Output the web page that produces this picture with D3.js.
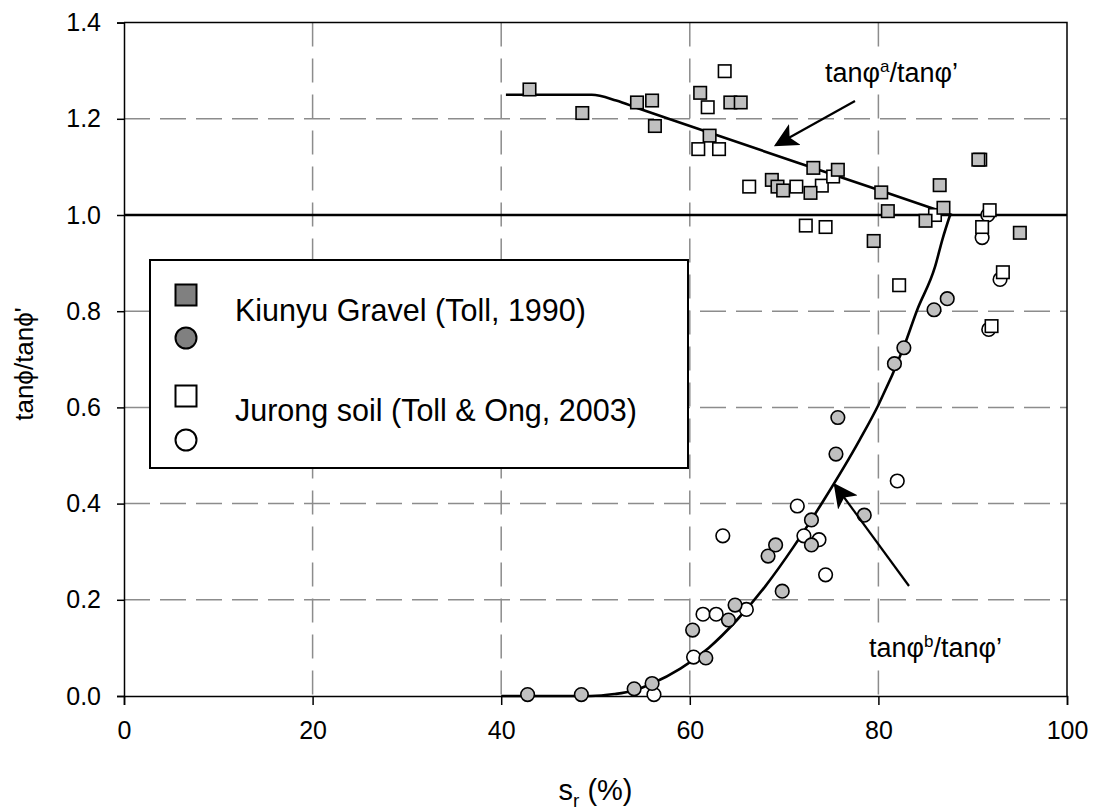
<!DOCTYPE html>
<html lang="en">
<head>
<meta charset="UTF-8">
<title>tanphi ratio</title>
<script src="https://cdn.jsdelivr.net/npm/d3@7"></script>
<style>
  * { padding: 0; margin: 0; }
  html, body { background: #fff; overflow: hidden; }
  text { font-family: "Liberation Sans", Arial, sans-serif; fill: #000; }
</style>
</head>
<body>
<svg id="chart" width="1097" height="811"></svg>
<script>
// Kiunyu Gravel (Toll, 1990): tanphi^a (squares) and tanphi^b (circles)
const kiunyuSquares = [
  [43.0, 1.261], [48.6, 1.212], [54.4, 1.234], [56.0, 1.238], [56.3, 1.185],
  [61.1, 1.254], [64.3, 1.234], [65.4, 1.234], [62.1, 1.165],
  [68.7, 1.073], [69.3, 1.059], [69.9, 1.051], [72.8, 1.046], [73.1, 1.098], [75.7, 1.094],
  [79.5, 0.946], [80.3, 1.047], [81.0, 1.008], [85.0, 0.988], [86.5, 1.062], [86.9, 1.015],
  [90.6, 1.115], [95.0, 0.963]
]
const kiunyuCircles = [
  [42.8, 0.003], [48.5, 0.003], [54.1, 0.015], [56.0, 0.026],
  [61.7, 0.079], [60.3, 0.137], [64.1, 0.158], [64.8, 0.189],
  [69.8, 0.218], [68.3, 0.291], [69.1, 0.314], [72.9, 0.366], [72.9, 0.314],
  [75.5, 0.503], [75.7, 0.579], [78.5, 0.376],
  [81.7, 0.691], [82.7, 0.724], [85.9, 0.803], [87.3, 0.826]
]
// Jurong soil (Toll & Ong, 2003)
const jurongSquares = [
  [63.7, 1.299], [61.9, 1.224], [60.9, 1.137], [63.1, 1.137], [66.3, 1.059],
  [71.3, 1.059], [74.0, 1.061], [75.2, 1.080], [72.3, 0.978], [74.4, 0.975],
  [82.2, 0.854], [86.0, 1.000], [90.8, 1.115], [91.0, 0.975], [91.8, 1.010],
  [93.2, 0.881], [92.0, 0.769]
]
const jurongCircles = [
  [56.2, 0.003], [60.4, 0.081], [61.4, 0.170], [62.8, 0.170], [66.0, 0.180],
  [63.5, 0.333], [71.4, 0.395], [72.1, 0.333], [73.7, 0.325], [74.4, 0.252],
  [82.0, 0.447], [91.0, 0.953], [91.6, 1.000], [92.9, 0.866], [91.7, 0.762]
]
// fitted curves
const curveA = [[40.5, 1.25], [49.6, 1.25], [52.2, 1.238], [54.5, 1.222], [57.9, 1.199], [79.1, 1.058], [87.8, 1.0]]
const curveB = [[40, 0], [49.5, 0], [52, 0.004], [54, 0.011], [56, 0.026], [59, 0.057], [62, 0.1],
  [65, 0.158], [68, 0.228], [71, 0.31], [74.2, 0.407], [78, 0.532], [80, 0.605], [82.7, 0.726],
  [84.1, 0.802], [86, 0.892], [86.8, 0.95], [87.6, 1.0]]
const xTicks = [0, 20, 40, 60, 80, 100]
const yTicks = [0, 0.2, 0.4, 0.6, 0.8, 1.0, 1.2, 1.4]

const svg = d3.select('#chart')
const margin = {left: 124, right: 30, top: 22.6, bottom: 115}
const W = 1097, H = 811
const x = d3.scaleLinear().domain([0, 100]).range([margin.left, W - margin.right])
const y = d3.scaleLinear().domain([0, 1.4]).range([H - margin.bottom, margin.top])

svg.append('rect').attr('width', W).attr('height', H).attr('fill', '#fff')

// grid
const grid = svg.append('g').attr('stroke', '#8c8c8c').attr('stroke-width', 1.5)
grid.selectAll('.gx').data(xTicks.slice(1, -1)).join('line')
  .attr('x1', d => x(d)).attr('x2', d => x(d)).attr('y1', y(1.4)).attr('y2', y(0))
  .attr('stroke-dasharray', '24,12')
grid.selectAll('.gy').data(yTicks.slice(1, -1)).join('line')
  .attr('x1', x(0)).attr('x2', x(100)).attr('y1', d => y(d)).attr('y2', d => y(d))
  .attr('stroke-dasharray', '26,10')

// axes
const xAxis = svg.append('g').attr('transform', `translate(0,${y(0)})`)
  .call(d3.axisBottom(x).tickValues(xTicks).tickSize(9).tickPadding(16).tickFormat(d3.format('d')))
const yAxis = svg.append('g').attr('transform', `translate(${x(0)},0)`)
  .call(d3.axisLeft(y).tickValues(yTicks).tickSize(7).tickPadding(16).tickFormat(d3.format('.1f')))
;[xAxis, yAxis].forEach(a => {
  a.select('.domain').attr('stroke', '#000').attr('stroke-width', 1.5)
  a.selectAll('.tick line').attr('stroke', '#000').attr('stroke-width', 1.5)
  a.selectAll('text').attr('font-size', 25).attr('font-family', '"Liberation Sans", Arial, sans-serif')
})
// frame top / right
svg.append('path').attr('fill', 'none').attr('stroke', '#000').attr('stroke-width', 1.5)
  .attr('d', `M${x(0)},${y(1.4)}H${x(100)}V${y(0)}`)

// unity line
svg.append('line').attr('x1', x(0)).attr('x2', x(100)).attr('y1', y(1)).attr('y2', y(1))
  .attr('stroke', '#000').attr('stroke-width', 2.6)

const line = d3.line().x(d => x(d[0])).y(d => y(d[1])).curve(d3.curveMonotoneX)
svg.append('path').datum(curveA).attr('d', line).attr('fill', 'none').attr('stroke', '#000').attr('stroke-width', 2.6)
svg.append('path').datum(curveB).attr('d', line).attr('fill', 'none').attr('stroke', '#000').attr('stroke-width', 2.6)

// markers
function circles (data, fill) {
  svg.append('g').selectAll('circle').data(data).join('circle')
    .attr('cx', d => x(d[0])).attr('cy', d => y(d[1])).attr('r', 6.8)
    .attr('fill', fill).attr('stroke', '#000').attr('stroke-width', 1.6)
}
function squares (data, fill) {
  const s = 12.5
  svg.append('g').selectAll('rect').data(data).join('rect')
    .attr('x', d => x(d[0]) - s / 2).attr('y', d => y(d[1]) - s / 2).attr('width', s).attr('height', s)
    .attr('fill', fill).attr('stroke', '#000').attr('stroke-width', 1.6)
}
circles(jurongCircles, '#fff')
circles(kiunyuCircles, '#c0c0c0')
squares(jurongSquares, '#fff')
squares(kiunyuSquares, '#c0c0c0')

// arrows
svg.append('defs').append('marker').attr('id', 'ah').attr('viewBox', '0 0 10 10')
  .attr('refX', 9).attr('refY', 5).attr('markerWidth', 24).attr('markerHeight', 24)
  .attr('markerUnits', 'userSpaceOnUse').attr('orient', 'auto')
  .append('path').attr('d', 'M0,0L10,5L0,10L2.5,5Z').attr('fill', '#000')
function arrow (x1, y1, x2, y2) {
  svg.append('line').attr('x1', x1).attr('y1', y1).attr('x2', x2).attr('y2', y2)
    .attr('stroke', '#000').attr('stroke-width', 2.2).attr('marker-end', 'url(#ah)')
}
arrow(855, 101, 776, 145)
arrow(909, 586, 835, 485)

// annotations (white text boxes hide the grid)
function note (tx, ty, sup) {
  const g = svg.append('g')
  const t = g.append('text').attr('x', tx).attr('y', ty).attr('font-size', 27)
    .attr('font-family', '"DejaVu Sans", sans-serif')
  t.append('tspan').text('tanφ')
  t.append('tspan').text(sup).attr('font-size', 17).attr('dy', -10)
  t.append('tspan').text('/tanφ’').attr('dy', 10)
  const b = t.node().getBBox()
  g.insert('rect', 'text').attr('x', b.x - 4).attr('y', b.y).attr('width', b.width + 8).attr('height', b.height).attr('fill', '#fff')
}
note(825, 82, 'a')
note(869, 657, 'b')

// legend
const lg = svg.append('g')
lg.append('rect').attr('x', 150).attr('y', 260).attr('width', 538).attr('height', 208)
  .attr('fill', '#fff').attr('stroke', '#000').attr('stroke-width', 2)
const ls = 21
lg.append('rect').attr('x', 186 - ls / 2).attr('y', 295 - ls / 2).attr('width', ls).attr('height', ls)
  .attr('fill', '#808080').attr('stroke', '#000').attr('stroke-width', 2)
lg.append('circle').attr('cx', 186).attr('cy', 338).attr('r', 10.5)
  .attr('fill', '#808080').attr('stroke', '#000').attr('stroke-width', 2)
lg.append('rect').attr('x', 186 - ls / 2).attr('y', 396 - ls / 2).attr('width', ls).attr('height', ls)
  .attr('fill', '#fff').attr('stroke', '#000').attr('stroke-width', 2)
lg.append('circle').attr('cx', 186).attr('cy', 440).attr('r', 10.5)
  .attr('fill', '#fff').attr('stroke', '#000').attr('stroke-width', 2)
lg.append('text').attr('x', 235).attr('y', 321).attr('font-size', 30.5).text('Kiunyu Gravel (Toll, 1990)')
lg.append('text').attr('x', 235).attr('y', 421).attr('font-size', 30.5).text('Jurong soil (Toll & Ong, 2003)')

// axis titles
svg.append('text').attr('transform', `translate(33,364) rotate(-90)`)
  .attr('text-anchor', 'middle').attr('font-size', 26).text("tanϕ/tanϕ'")
const xt = svg.append('text').attr('x', (x(0) + x(100)) / 2).attr('y', 800)
  .attr('text-anchor', 'middle').attr('font-size', 29)
xt.append('tspan').text('s')
xt.append('tspan').text('r').attr('font-size', 19).attr('dy', 7)
xt.append('tspan').text(' (%)').attr('dy', -7)
</script>
</body>
</html>
